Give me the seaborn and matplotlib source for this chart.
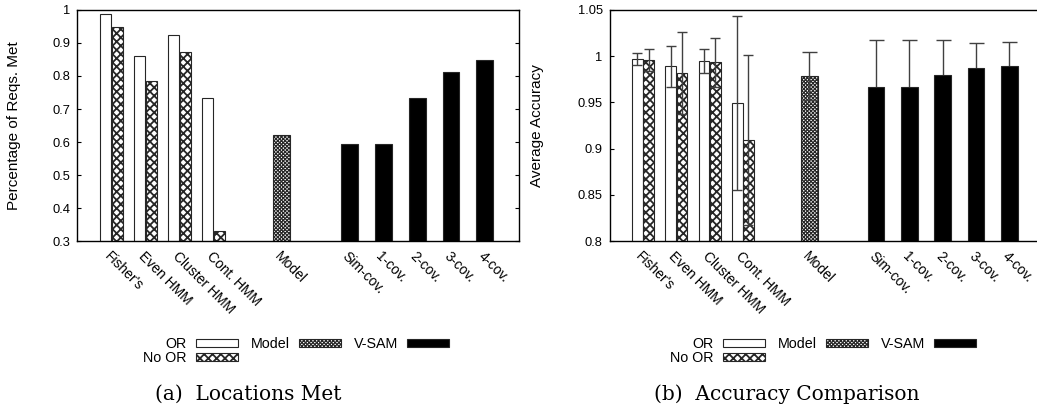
import numpy as np
import pandas as pd
import seaborn as sns
import matplotlib.pyplot as plt
from matplotlib.patches import Patch

# categories
pair_labels = ["Fisher's", "Even HMM", "Cluster HMM", "Cont. HMM"]
model_labels = ["Model"]
vsam_labels = ["Sim-cov.", "1-cov.", "2-cov.", "3-cov.", "4-cov."]

# (a) Locations Met
met_or = [0.987, 0.861, 0.924, 0.734]
met_noor = [0.948, 0.785, 0.873, 0.330]
met_model = [0.620]
met_vsam = [0.595, 0.595, 0.734, 0.811, 0.847]

# (b) Accuracy Comparison (mean, error)
acc_or = [0.9966, 0.989, 0.9948, 0.9497]
acc_or_err = [0.0065, 0.022, 0.0127, 0.094]
acc_noor = [0.9956, 0.982, 0.9934, 0.909]
acc_noor_err = [0.012, 0.0445, 0.0266, 0.092]
acc_model = [0.979]
acc_model_err = [0.026]
acc_vsam = [0.967, 0.967, 0.980, 0.987, 0.989]
acc_vsam_err = [0.050, 0.050, 0.038, 0.0277, 0.0267]

# layout of the x axis (gnuplot-like slots with gaps)
pair_pos = np.array([1, 2, 3, 4])
model_pos = np.array([6])
vsam_pos = np.array([8, 9, 10, 11, 12])
off = 0.17

sns.set_theme(style="white")
plt.rcParams['font.family'] = ['Liberation Sans', 'DejaVu Sans']
plt.rcParams['hatch.linewidth'] = 1.3
for key in ['text.color', 'axes.labelcolor', 'xtick.color', 'ytick.color']:
    plt.rcParams[key] = 'black'

EDGE = '0.15'
NOOR_HATCH = 'xxxx'
MODEL_HATCH = 'xxxxxxxxx'
bar_kw = dict(orient='x', native_scale=True, errorbar=None, saturation=1,
              edgecolor=EDGE, linewidth=0.8)


def thin_hatch(patches, lw=0.85):
    for p in patches:
        if hasattr(p, 'set_hatch_linewidth'):
            p.set_hatch_linewidth(lw)


def draw_panel(ax, v_or, v_noor, v_model, v_vsam, errs=None):
    sns.barplot(x=pair_pos - off, y=v_or, width=0.32, color='white', ax=ax, **bar_kw)
    sns.barplot(x=pair_pos + off, y=v_noor, width=0.32, color='white', hatch=NOOR_HATCH, ax=ax, **bar_kw)
    n = len(ax.patches)
    sns.barplot(x=model_pos, y=v_model, width=0.5, color='white', hatch=MODEL_HATCH, ax=ax, **bar_kw)
    thin_hatch(ax.patches[n:])
    sns.barplot(x=vsam_pos, y=v_vsam, width=0.5, color='black', ax=ax, **bar_kw)
    if errs is not None:
        e_or, e_noor, e_model, e_vsam = errs
        ax.errorbar(pair_pos - off, v_or, yerr=e_or, fmt='none', ecolor='0.25',
                    elinewidth=1, capsize=3.6, capthick=1, zorder=5, clip_on=False)
        ax.errorbar(pair_pos + off, v_noor, yerr=e_noor, fmt='none', ecolor='0.25',
                    elinewidth=1, capsize=3.6, capthick=1, zorder=5, clip_on=False)
        ax.errorbar(model_pos, v_model, yerr=e_model, fmt='none', ecolor='0.25',
                    elinewidth=1, capsize=5.4, capthick=1, zorder=5, clip_on=False)
        ax.errorbar(vsam_pos, v_vsam, yerr=e_vsam, fmt='none', ecolor='0.25',
                    elinewidth=1, capsize=5.4, capthick=1, zorder=0.5, clip_on=False)

    ax.set_xlim(0, 13)
    ax.set_xticks(np.concatenate([pair_pos, model_pos, vsam_pos]))
    ax.set_xticklabels(pair_labels + model_labels + vsam_labels, rotation=-45,
                       ha='left', va='top', rotation_mode='anchor', fontsize=10)
    ax.tick_params(axis='x', length=0, pad=6)
    ax.tick_params(axis='y', direction='in', length=3, width=0.8, left=True,
                   right=True, labelsize=9.3, pad=5)
    ax.set_yticklabels([f"{t:g}" for t in ax.get_yticks()])
    for s in ax.spines.values():
        s.set_visible(True)
        s.set_color('black')
        s.set_linewidth(1)
    ax.grid(False)


fig = plt.figure(figsize=(10.37, 4.08), dpi=100)
ax1 = fig.add_axes([0.0747, 0.4093, 0.4257, 0.5662])
ax2 = fig.add_axes([0.5879, 0.4093, 0.4174, 0.5662])

ax1.set_ylim(0.3, 1.0)
ax1.set_yticks(np.round(np.arange(0.3, 1.001, 0.1), 2))
draw_panel(ax1, met_or, met_noor, met_model, met_vsam)
ax1.set_ylabel("Percentage of Reqs. Met", fontsize=11)
ax1.yaxis.set_label_coords(-0.128, 0.5)

ax2.set_ylim(0.8, 1.05)
ax2.set_yticks(np.round(np.arange(0.8, 1.051, 0.05), 2))
draw_panel(ax2, acc_or, acc_noor, acc_model, acc_vsam,
           errs=(acc_or_err, acc_noor_err, acc_model_err, acc_vsam_err))
ax2.set_ylabel("Average Accuracy", fontsize=11)
ax2.yaxis.set_label_coords(-0.152, 0.5)

names = ["OR", "No OR", "Model", "V-SAM"]
for x0 in (143 / 1037, 670 / 1037):
    handles = [Patch(facecolor='white', edgecolor=EDGE, linewidth=0.8),
               Patch(facecolor='white', edgecolor=EDGE, linewidth=0.8, hatch=NOOR_HATCH),
               Patch(facecolor='white', edgecolor=EDGE, linewidth=0.8, hatch=MODEL_HATCH),
               Patch(facecolor='black', edgecolor=EDGE, linewidth=0.8)]
    thin_hatch(handles[2:3])
    leg = fig.legend(handles, names, ncol=3, markerfirst=False, frameon=False,
                     loc='upper left', bbox_to_anchor=(x0, 1 - 337 / 408),
                     borderpad=0, borderaxespad=0, fontsize=10.3, handlelength=2.95,
                     handleheight=0.5, handletextpad=0.63, columnspacing=0.9,
                     labelspacing=0.0)
    thin_hatch(leg.get_patches()[2:3])

fig.text(248 / 1037, 1 - 394 / 408, "(a)  Locations Met", family='DejaVu Serif',
         fontsize=14.5, ha='center', va='center')
fig.text(787 / 1037, 1 - 394 / 408, "(b)  Accuracy Comparison", family='DejaVu Serif',
         fontsize=14.5, ha='center', va='center')

fig.savefig('out.png', dpi=100)
